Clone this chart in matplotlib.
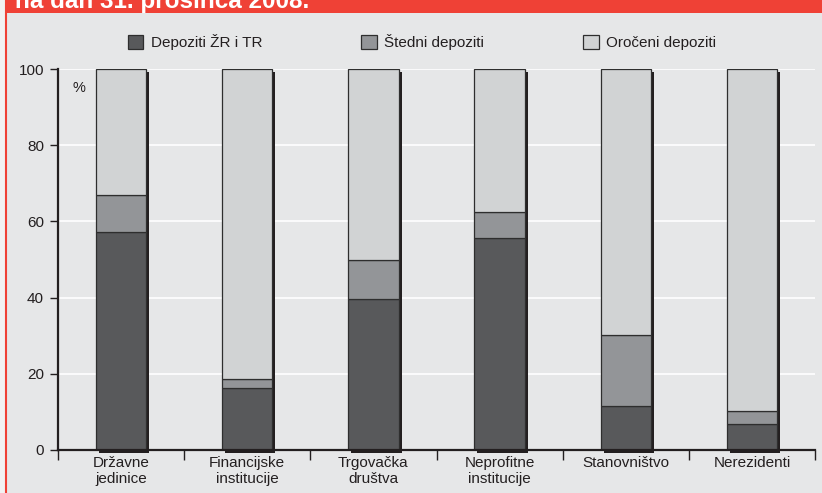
import matplotlib
matplotlib.use("Agg")
import matplotlib.pyplot as plt
import matplotlib.transforms as mtransforms
from matplotlib.patches import Rectangle, Patch
from matplotlib.lines import Line2D
import numpy as np

plt.rcParams['font.family'] = ['Liberation Sans', 'DejaVu Sans']

title = "na dan 31. prosinca 2008."
categories = ["Državne\njedinice", "Financijske\ninstitucije", "Trgovačka\ndruštva",
              "Neprofitne\ninstitucije", "Stanovništvo", "Nerezidenti"]
series_names = ["Depoziti ŽR i TR", "Štedni depoziti", "Oročeni depoziti"]
depoziti_zr_tr = [57.3, 16.1, 39.7, 55.7, 11.4, 6.6]
stedni = [9.7, 2.4, 10.2, 6.9, 18.7, 3.6]
oroceni = [33.0, 81.5, 50.1, 37.4, 69.9, 89.8]
yticks = [0, 20, 40, 60, 80, 100]

colors = ["#58595b", "#939598", "#d1d3d4"]
bg = "#e6e7e8"
shadow = "#231f20"
red = "#ef4136"

fig = plt.figure(figsize=(8.22, 4.93), dpi=100, facecolor=bg)
W, H = 822, 493

# red banner and left border
fig.patches.append(Rectangle((5 / W, 1 - 13 / H), 1, 13 / H, transform=fig.transFigure,
                             facecolor=red, edgecolor="none", zorder=0))
fig.patches.append(Rectangle((0, 0), 5 / W, 1, transform=fig.transFigure,
                             facecolor="#f2f2f2", edgecolor="none", zorder=0))
fig.lines.append(Line2D([5.5 / W, 5.5 / W], [0, 1], transform=fig.transFigure,
                        color=red, lw=1.5, zorder=1))
fig.text(15 / W, 1 - 8 / H, title, color="white", fontsize=17.5, fontweight="bold",
         va="baseline", ha="left")

ax = fig.add_axes([58 / W, 1 - 449.5 / H, (815 - 58) / W, (449.5 - 69.5) / H])
ax.set_facecolor(bg)

x = np.arange(len(categories))
width = 0.4
totals = np.array(depoziti_zr_tr) + np.array(stedni) + np.array(oroceni)

shadow_tr = mtransforms.offset_copy(ax.transData, fig=fig, x=3, y=-3, units="dots")
ax.bar(x, totals, width, color=shadow, edgecolor="none", transform=shadow_tr,
       zorder=2, clip_on=False)

bottom = np.zeros(len(categories))
for vals, c, name in zip([depoziti_zr_tr, stedni, oroceni], colors, series_names):
    ax.bar(x, vals, width, bottom=bottom, color=c, edgecolor="#2e2e2e", linewidth=0.9,
           zorder=3, label=name)
    bottom += np.array(vals)

ax.set_xlim(-0.5, len(categories) - 0.5)
ax.set_ylim(0, 100)
ax.set_yticks(yticks)
ax.yaxis.grid(True, color="white", lw=1.2, zorder=0)
ax.set_axisbelow(True)

for s in ["top", "right"]:
    ax.spines[s].set_visible(False)
ax.spines["left"].set_color("#231f20")
ax.spines["left"].set_linewidth(1.6)
ax.spines["bottom"].set_color("#231f20")
ax.spines["bottom"].set_linewidth(1.6)
ax.spines["bottom"].set_zorder(4)

ax.set_xticks(x)
ax.set_xticklabels(categories, fontsize=11, color="#231f20", linespacing=1.1)
ax.set_xticks(np.arange(-0.5, len(categories)), minor=True)
ax.tick_params(axis="x", which="major", length=0, pad=5)
ax.tick_params(axis="x", which="minor", length=7, width=1, color="#231f20", direction="out")
ax.tick_params(axis="y", length=6, width=1, color="#231f20", labelsize=11,
               labelcolor="#231f20", pad=4)

ax.text(14 / (815 - 58), 0.97, "%", transform=ax.transAxes, fontsize=10.5,
        color="#231f20", va="top", ha="left")

handles = [Patch(facecolor=c, edgecolor="#2e2e2e", linewidth=0.9) for c in colors]
fig.legend(handles, series_names, loc="center left", bbox_to_anchor=(120 / W, 1 - 42 / H),
           ncol=3, frameon=False, fontsize=11, handlelength=1.0, handleheight=1.0,
           handletextpad=0.5, columnspacing=6.5, borderpad=0, labelcolor="#231f20")

fig.savefig("out.png", dpi=100, facecolor=bg)
